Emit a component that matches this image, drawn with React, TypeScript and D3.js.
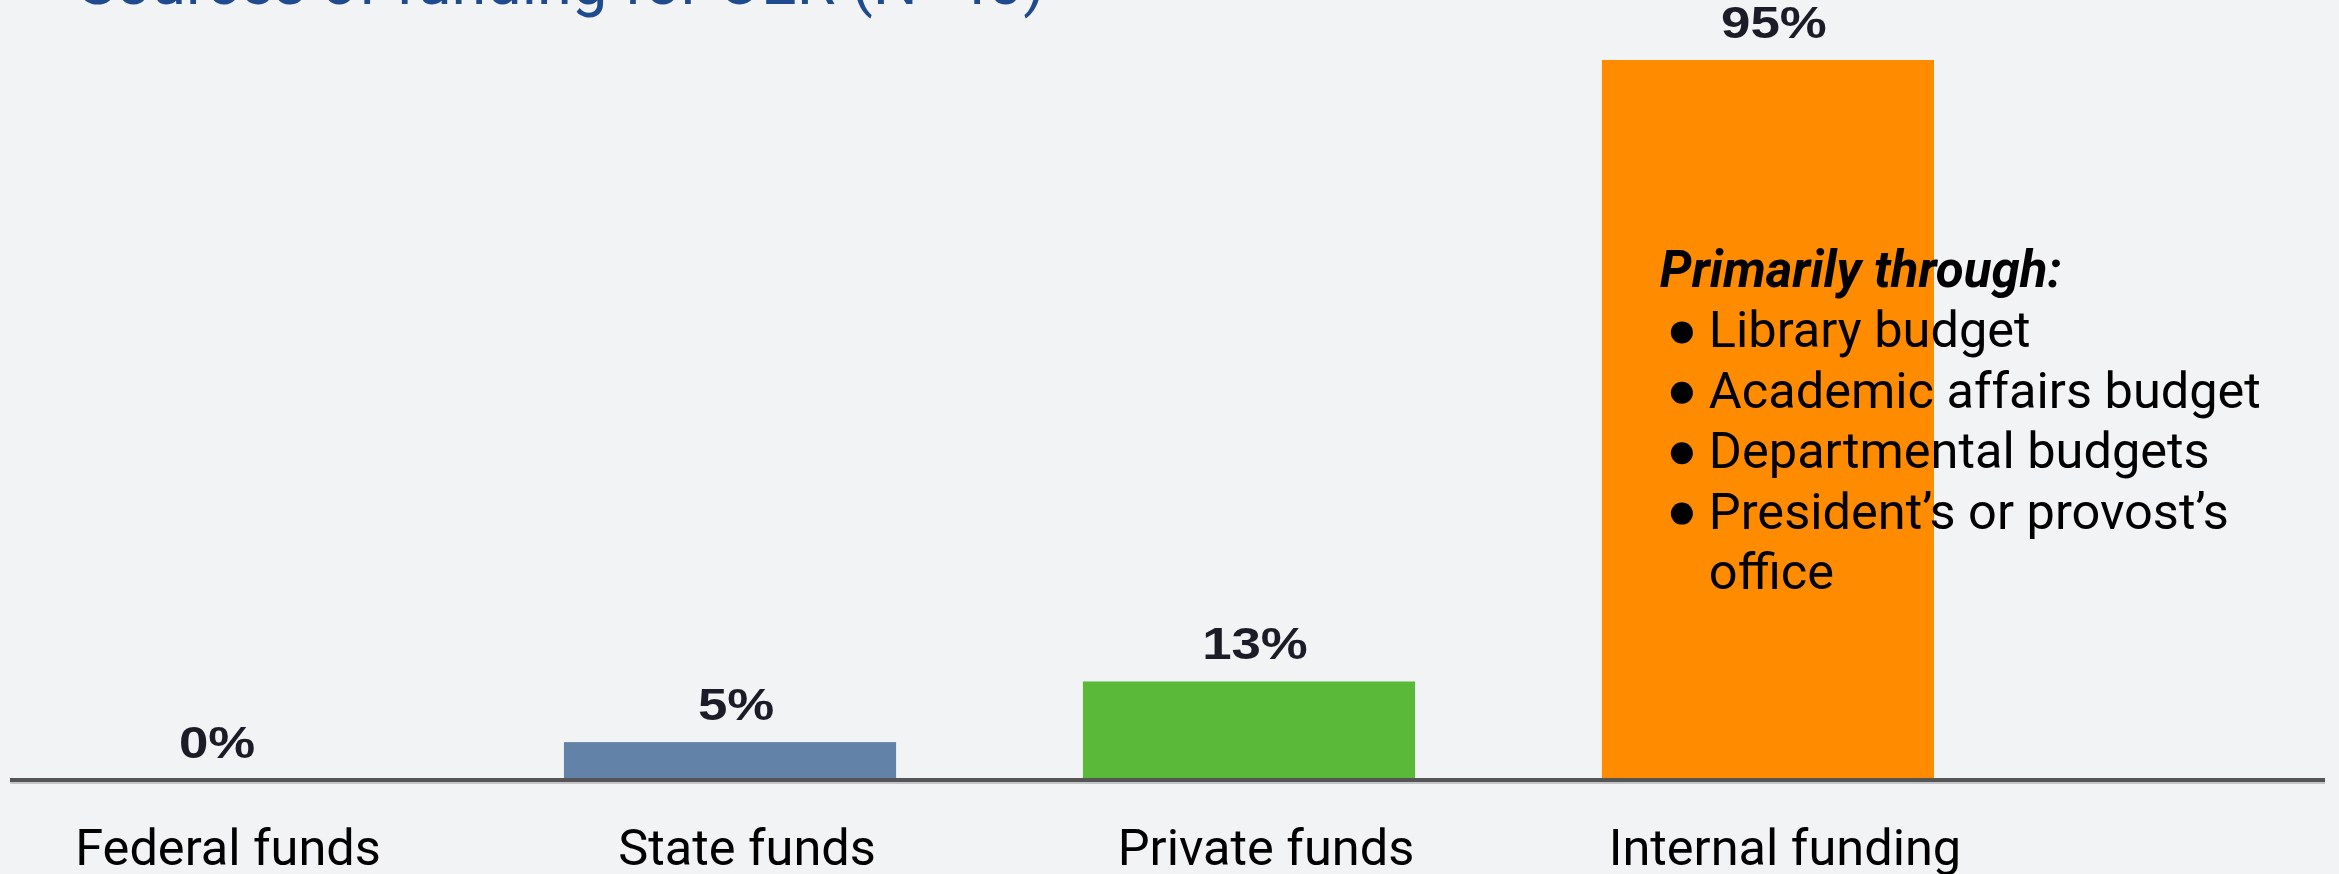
import React from 'react';
import * as d3 from 'd3';

const categories = ['Federal funds', 'State funds', 'Private funds', 'Internal funding'];
const values = [0, 5, 13, 95];
const barColors = ['#6283a7', '#6283a7', '#5bb93a', '#ff8c00'];
const noteTitle = 'Primarily through:';
const noteItems = ['Library budget', 'Academic affairs budget', 'Departmental budgets', "President\u2019s or provost\u2019s"];
const noteContinuation = 'office';

const W = 2339;
const H = 874;

function App() {
  const x = d3.scaleBand()
    .domain(categories)
    .range([45, 1934])
    .paddingInner(0.36)
    .paddingOuter(0);

  const y = d3.scaleLinear()
    .domain([0, 95])
    .range([780, 60]);

  const noteX = x('Internal funding') + 58;
  const lineH = 60.4;

  return (
    <svg width={W} height={H} style={{ position: 'absolute', left: 0, top: 0, display: 'block' }}>
      <rect width={W} height={H} fill="#f2f3f5" />

      <text x={78} y={4} fontFamily="Roboto" fontSize={63} fill="#1f4b8e">
        Sources of funding for OER (N=40)
      </text>

      {/* bars */}
      {categories.map((c, i) => (
        <rect key={c}
          x={x(c)} y={y(values[i])}
          width={x.bandwidth()} height={y(0) - y(values[i])}
          fill={barColors[i]} />
      ))}

      {/* value labels, a bit stretched like the source */}
      {categories.map((c, i) => (
        <text key={c}
          transform={`translate(${x(c) + x.bandwidth() / 2 + 6},${y(values[i]) - 22}) scale(1.2,1)`}
          textAnchor="middle" fontFamily="Liberation Sans, Arial" fontWeight="bold"
          fontSize={44} fill="#1c1c28">
          {values[i] + '%'}
        </text>
      ))}

      {/* baseline */}
      <line x1={10} x2={2325} y1={y(0) + 3} y2={y(0) + 3} stroke="#c4c5c8" strokeWidth={2} />
      <line x1={10} x2={2325} y1={y(0)} y2={y(0)} stroke="#555" strokeWidth={4} />

      {/* category labels */}
      {categories.map(c => (
        <text key={c} x={x(c) + x.bandwidth() / 2 + 17} y={865}
          textAnchor="middle" fontFamily="Roboto" fontSize={50.5} fill="#000">
          {c}
        </text>
      ))}

      {/* annotation */}
      <text x={noteX} y={287} fontFamily="Roboto" fontSize={51} fontWeight="bold" fontStyle="italic" fill="#000">
        {noteTitle}
      </text>
      {noteItems.map((t, i) => (
        <g key={t}>
          <circle cx={noteX + 22} cy={287 + lineH * (i + 1) - 15} r={11} fill="#000" />
          <text x={noteX + 49} y={287 + lineH * (i + 1)} fontFamily="Roboto" fontSize={50.5} fill="#000">{t}</text>
        </g>
      ))}
      <text x={noteX + 49} y={287 + lineH * 5} fontFamily="Roboto" fontSize={50.5} fill="#000">{noteContinuation}</text>
    </svg>
  );
}

export default App;
